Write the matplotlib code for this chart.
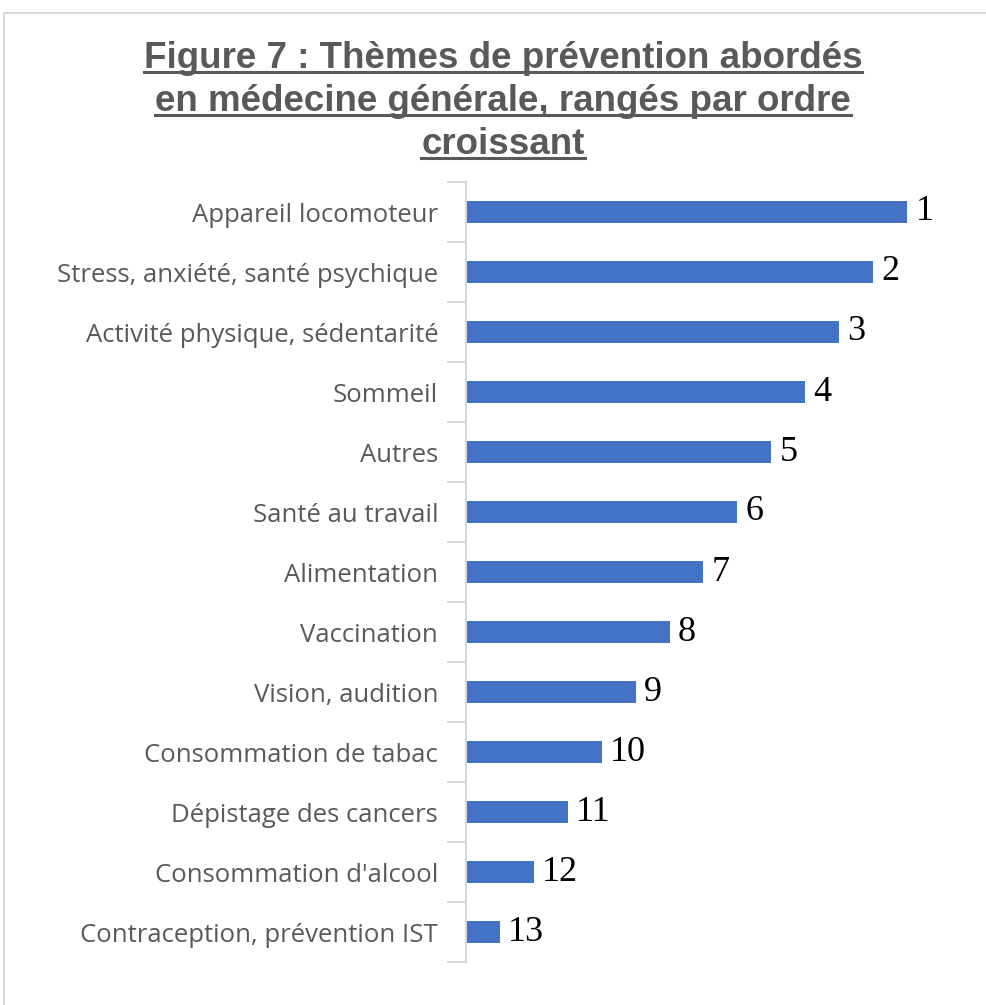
import matplotlib.pyplot as plt
from matplotlib.patches import Rectangle
from matplotlib.lines import Line2D

# Themes ordered from rank 1 (top) to rank 13 (bottom)
themes = [
    "Appareil locomoteur",
    "Stress, anxiété, santé psychique",
    "Activité physique, sédentarité",
    "Sommeil",
    "Autres",
    "Santé au travail",
    "Alimentation",
    "Vaccination",
    "Vision, audition",
    "Consommation de tabac",
    "Dépistage des cancers",
    "Consommation d'alcool",
    "Contraception, prévention IST",
]
ranks = [1, 2, 3, 4, 5, 6, 7, 8, 9, 10, 11, 12, 13]
scores = [13, 12, 11, 10, 9, 8, 7, 6, 5, 4, 3, 2, 1]

title_lines = [
    "Figure 7 : Thèmes de prévention abordés",
    "en médecine générale, rangés par ordre",
    "croissant",
]

W, H = 987, 1005
fig = plt.figure(figsize=(W / 100, H / 100), dpi=100)

# light gray frame around the chart area
fig.patches.append(Rectangle((4 / W, -0.1), 1.2, 1.1 - 13 / H, transform=fig.transFigure,
                             fill=False, edgecolor="#d9d9d9", linewidth=1.5))

ax = fig.add_axes([466 / W, 1 - 962 / H, (941 - 466) / W, (962 - 182) / H])

ypos = list(range(len(themes)))
ax.barh(ypos, scores, height=0.36, color="#4472c4")
ax.set_ylim(len(themes) - 0.5, -0.5)
ax.set_xlim(0, 14)

for y, s, r in zip(ypos, scores, ranks):
    ax.annotate(str(r), (s, y), xytext=(6, 0), textcoords="offset points",
                va="center", ha="left", fontsize=26, family="Liberation Serif", color="black")

ax.set_yticks(ypos)
ax.set_yticklabels(themes, fontsize=18.5, family="Open Sans", color="#595959")
ax.set_yticks([i - 0.5 for i in range(len(themes) + 1)], minor=True)
ax.tick_params(axis="y", which="major", length=0, pad=20)
ax.tick_params(axis="y", which="minor", length=14, color="#d9d9d9", width=1.5)
ax.set_xticks([])
for side in ["top", "right", "bottom"]:
    ax.spines[side].set_visible(False)
ax.spines["left"].set_color("#d9d9d9")
ax.spines["left"].set_linewidth(1.5)

# title, one line at a time so each can be underlined
baselines = [68, 111, 154]
texts = []
for line, by in zip(title_lines, baselines):
    t = fig.text(503 / W, 1 - by / H, line, ha="center", va="baseline", fontsize=26.5,
                 fontweight="bold", family="Liberation Sans", color="#595959")
    texts.append(t)

fig.canvas.draw()
renderer = fig.canvas.get_renderer()
inv = fig.transFigure.inverted()
for t, by in zip(texts, baselines):
    bb = t.get_window_extent(renderer)
    (x0, _), (x1, _) = inv.transform([(bb.x0, bb.y0), (bb.x1, bb.y1)])
    yl = 1 - (by + 4) / H
    fig.lines.append(Line2D([x0, x1], [yl, yl], transform=fig.transFigure,
                            color="#595959", linewidth=2.2))

fig.savefig("out.png", dpi=100)
